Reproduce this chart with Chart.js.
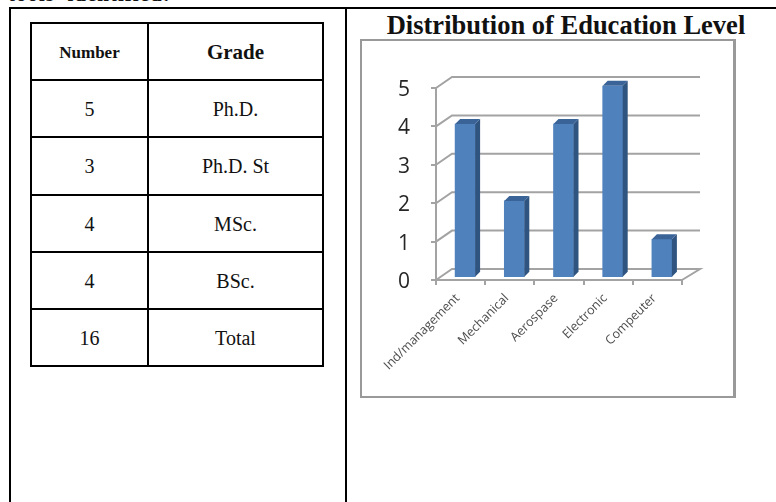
<!DOCTYPE html>
<html>
<head>
<meta charset="utf-8">
<title>Distribution of Education Level</title>
<script src="https://cdn.jsdelivr.net/npm/chart.js@4"></script>
<style>
  html, body { margin: 0; padding: 0; background: #fff; }
  body { width: 776px; height: 502px; position: relative; overflow: hidden; font-family: "Liberation Serif", serif; color: #111; }
  .intro { position: absolute; left: 8px; top: -18px; font-size: 21px; line-height: 24px; font-weight: bold; letter-spacing: 1px; white-space: pre; }
  .frame { position: absolute; background: #000; }
  #gradeTable { position: absolute; left: 30px; top: 22px; width: 294px; border-collapse: collapse; table-layout: fixed; }
  #gradeTable th, #gradeTable td { border: 2px solid #000; text-align: center; padding: 2px 0 0; height: 53.2px; font-size: 20px; font-weight: normal; }
  #gradeTable th { font-weight: bold; }
  #gradeTable th.small { font-size: 17px; }
  #gradeTable th.big { font-size: 21px; }
  #gradeTable .num { width: 115px; }
  h2 { position: absolute; left: 351px; top: 11px; width: 430px; margin: 0; text-align: center; font-size: 26.5px; line-height: 28px; font-weight: bold; }
  #chartBox { position: absolute; left: 360px; top: 39px; width: 371px; height: 355px; border: 2px solid #999; border-right-width: 3px; background: #fff; }
  #chartBox canvas { position: absolute; left: -2px; top: -1px; filter: blur(0.6px); }
</style>
</head>
<body>
<div class="intro">tools  identified:</div>

<div class="frame" style="left:9px;top:7px;width:767px;height:2px"></div>
<div class="frame" style="left:9px;top:7px;width:2px;height:495px"></div>
<div class="frame" style="left:345px;top:7px;width:2px;height:495px"></div>

<table id="gradeTable"></table>

<h2>Distribution of Education Level</h2>
<div id="chartBox"><canvas id="eduChart" width="375" height="355"></canvas></div>

<script>
// Staff table
const gradeNumbers = ["5", "3", "4", "4", "16"];
const gradeNames   = ["Ph.D.", "Ph.D. St", "MSc.", "BSc.", "Total"];

// Bars
const departments = ["Ind/management", "Mechanical", "Aerospase", "Electronic", "Compeuter"];
const staffCounts = [4, 2, 4, 5, 1];
const yTicks      = [0, 1, 2, 3, 4, 5];

const gridGrey  = "#a3a3a3";
const barFront  = "#4f81bd";
const barSide   = "#2f5480";
const barTop    = "#3a6398";
const tickFont  = "'Open Sans', sans-serif";

// depth of the box behind the front plane
const DEPTH_L = 16;
const DEPTH_R = 18;
const DEPTH_Y = 11;
// depth of one bar, and where it stands inside the box
const BAR_DX = 5;
const BAR_DY = 5;
const BAR_SHIFT_X = 4.5;
const BAR_SHIFT_Y = -2.3;

document.getElementById("gradeTable").innerHTML =
  `<tr><th class="num small">Number</th><th class="big">Grade</th></tr>` +
  gradeNumbers.map((n, i) => `<tr><td>${n}</td><td>${gradeNames[i]}</td></tr>`).join("");

// Back wall, side wall and floor lines of the box, behind the bars
const boxPlugin = {
  id: "box3d",
  beforeDatasetsDraw(chart) {
    const { ctx, chartArea, scales } = chart;
    ctx.save();
    ctx.strokeStyle = gridGrey;
    ctx.lineWidth = 2;
    yTicks.forEach(v => {
      const y = scales.y.getPixelForValue(v);
      ctx.beginPath();
      ctx.moveTo(chartArea.left, y);
      ctx.lineTo(chartArea.left + DEPTH_L, y - DEPTH_Y);
      ctx.lineTo(chartArea.right + DEPTH_R, y - DEPTH_Y);
      if (v === 0) ctx.lineTo(chartArea.right, y);
      ctx.stroke();
    });
    ctx.restore();
    // bars stand a little behind the front plane
    ctx.save();
    ctx.translate(BAR_SHIFT_X, BAR_SHIFT_Y);
  },
  afterDatasetsDraw(chart) {
    const { ctx } = chart;
    // side and top faces of each bar
    chart.getDatasetMeta(0).data.forEach(bar => {
      const w = bar.width / 2;
      const r = bar.x + w, l = bar.x - w, t = bar.y, b = bar.base;
      ctx.fillStyle = barSide;
      ctx.beginPath();
      ctx.moveTo(r, t);
      ctx.lineTo(r + BAR_DX, t - BAR_DY);
      ctx.lineTo(r + BAR_DX, b - BAR_DY);
      ctx.lineTo(r, b);
      ctx.closePath();
      ctx.fill();
      ctx.fillStyle = barTop;
      ctx.beginPath();
      ctx.moveTo(l, t);
      ctx.lineTo(l + BAR_DX, t - BAR_DY);
      ctx.lineTo(r + BAR_DX, t - BAR_DY);
      ctx.lineTo(r, t);
      ctx.closePath();
      ctx.fill();
    });
    ctx.restore();
  }
};

new Chart(document.getElementById("eduChart"), {
  type: "bar",
  data: {
    labels: departments,
    datasets: [{ data: staffCounts, backgroundColor: barFront, barThickness: 20 }]
  },
  plugins: [boxPlugin],
  options: {
    responsive: false,
    animation: false,
    layout: { padding: { top: 48, right: 53, left: 0, bottom: 0 } },
    plugins: { legend: { display: false }, tooltip: { enabled: false } },
    scales: {
      x: {
        afterFit: s => { s.height = 115; },
        grid: { drawOnChartArea: false, color: gridGrey, lineWidth: 2, tickLength: 5 },
        border: { color: gridGrey, width: 2 },
        ticks: { minRotation: 45, maxRotation: 45, padding: 6, labelOffset: -3, color: "#4d4d4d", font: { family: tickFont, size: 12.5 } }
      },
      y: {
        min: 0,
        max: 5,
        afterFit: s => { s.width = 76; },
        grid: { drawOnChartArea: false, color: gridGrey, lineWidth: 2, tickLength: 5 },
        border: { color: gridGrey, width: 2 },
        ticks: {
          stepSize: 1,
          padding: 21,
          labelOffset: 2,
          color: "#262626",
          font: { family: tickFont, size: 21 }
        }
      }
    }
  }
});
</script>
</body>
</html>
